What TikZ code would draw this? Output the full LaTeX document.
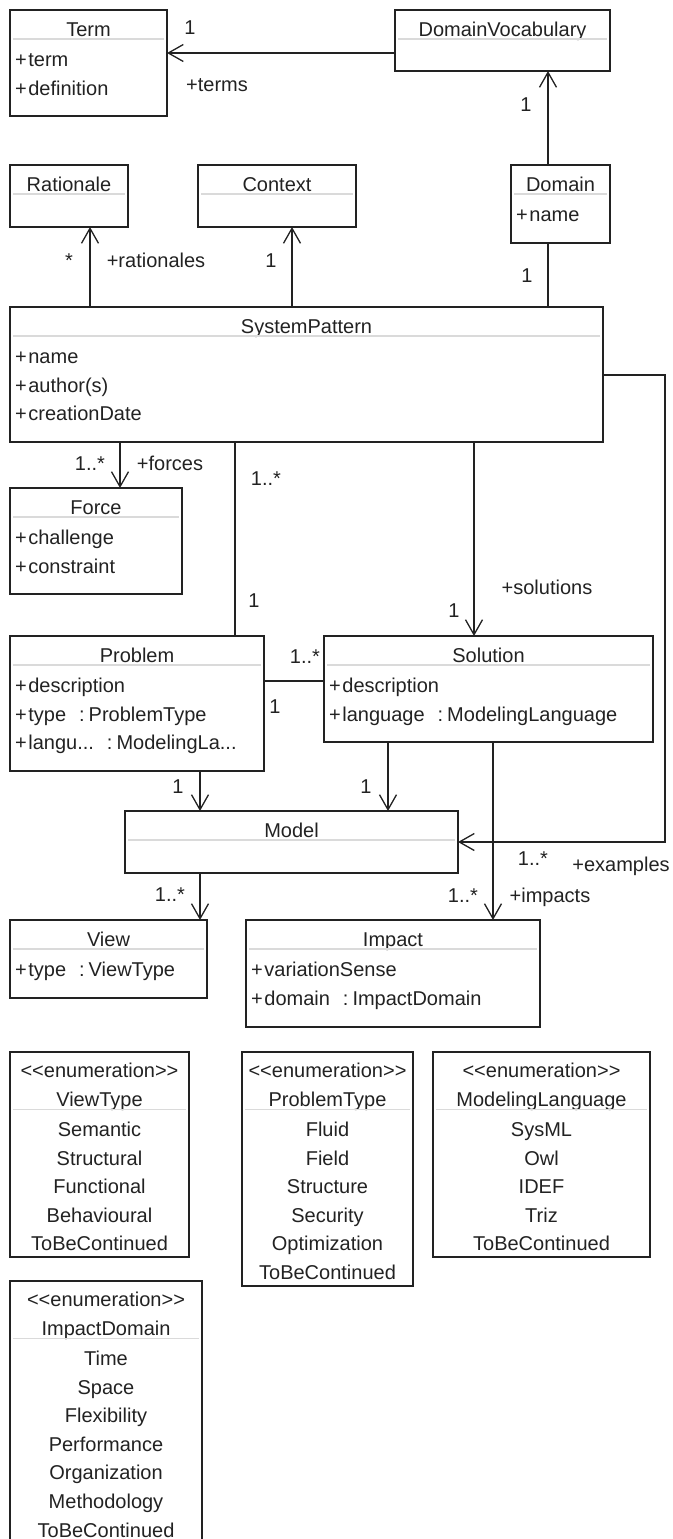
\documentclass[tikz,border=0pt]{standalone}
\usepackage{fontspec}
\setmainfont{Liberation Sans}
\usetikzlibrary{arrows.meta,calc}
\definecolor{ink}{HTML}{222222}
\definecolor{sepc}{HTML}{DADADA}
\tikzset{
 box/.style={draw=ink, line width=1.5pt, anchor=north west, inner sep=0pt, outer sep=0pt},
 lbl/.style={anchor=base, inner sep=0pt, text=ink, font=\fontsize{20}{24}\selectfont},
 attrl/.style={lbl, anchor=base west},
 sepline/.style={draw=sepc, line width=1.2pt},
 conn/.style={draw=ink, line width=1.3pt},
 assoc/.style={conn, -{Straight Barb[length=15pt,width=17pt,line width=1.3pt]}},
}
\newcommand\umlbox[6]{%
  \node[box, minimum width={#4-#2}, minimum height={#5-#3}] (#1) at (#2,#3) {};
  \node[lbl] (#1-title) at ($(#1.north)+(0,26)$) {#6};
  \draw[sepline] ($(#1.north west)+(3,29)$) -- ($(#1.north east)+(-3,29)$);
}
\newcommand\attr[4]{\node[attrl] (#1) at ($(#2.north west)+(5,#3)$) {+\kern1.5pt#4};}
\newcommand\typed[2]{#1\hspace{13pt}:\hspace{4pt}#2}
\newcommand\enumbox[6]{%
  \node[box, minimum width={#4-#2}, minimum height={#5-#3}] (#1) at (#2,#3) {};
  \node[lbl] (#1-st) at ($(#1.north)+(0,25.5)$) {<\kern0pt<enumeration>\kern0pt>};
  \node[lbl] (#1-title) at ($(#1.north)+(0,54.5)$) {#6};
  \draw[sepline] ($(#1.north west)+(3,57.5)$) -- ($(#1.north east)+(-3,57.5)$);
}
\newcommand\lit[4]{\node[lbl] (#1) at ($(#2.north)+(0,#3)$) {#4};}
\begin{document}
\begin{tikzpicture}[x=1pt,y=-1pt]
\useasboundingbox (0,0) rectangle (672,1539);
\clip (0,0) rectangle (672,1539);
% ---------- classes
\umlbox{term}{10}{10}{167}{116}{Term}
\attr{term-a1}{term}{56.5}{term}
\attr{term-a2}{term}{85}{definition}
\umlbox{dv}{395}{10}{610}{71}{DomainVocabulary}
\umlbox{rat}{10}{165}{128}{227}{Rationale}
\umlbox{ctx}{198}{165}{356}{227}{Context}
\umlbox{domain}{511}{165}{610}{243}{Domain}
\attr{domain-a1}{domain}{56.5}{name}
\umlbox{sp}{10}{307}{603}{442}{SystemPattern}
\attr{sp-a1}{sp}{56.5}{name}
\attr{sp-a2}{sp}{85}{author(s)}
\attr{sp-a3}{sp}{113.5}{creationDate}
\umlbox{force}{10}{488}{182}{594}{Force}
\attr{force-a1}{force}{56.5}{challenge}
\attr{force-a2}{force}{85}{constraint}
\umlbox{problem}{10}{636}{264}{771}{Problem}
\attr{problem-a1}{problem}{56.5}{description}
\attr{problem-a2}{problem}{85}{\typed{type}{ProblemType}}
\attr{problem-a3}{problem}{113.5}{\typed{langu...}{ModelingLa...}}
\umlbox{solution}{324}{636}{653}{742}{Solution}
\attr{solution-a1}{solution}{56.5}{description}
\attr{solution-a2}{solution}{85}{\typed{language}{ModelingLanguage}}
\umlbox{model}{125}{811}{458}{873}{Model}
\umlbox{view}{10}{920}{207}{998}{View}
\attr{view-a1}{view}{56.5}{\typed{type}{ViewType}}
\umlbox{impact}{246}{920}{540}{1027}{Impact}
\attr{impact-a1}{impact}{56.5}{variationSense}
\attr{impact-a2}{impact}{85}{\typed{domain}{ImpactDomain}}
% ---------- enumerations
\enumbox{vt}{10}{1052}{189}{1257}{ViewType}
\lit{vt-1}{vt}{84.5}{Semantic}
\lit{vt-2}{vt}{113.1}{Structural}
\lit{vt-3}{vt}{141.7}{Functional}
\lit{vt-4}{vt}{170.3}{Behavioural}
\lit{vt-5}{vt}{198.9}{ToBeContinued}
\enumbox{pt}{242}{1052}{413}{1286}{ProblemType}
\lit{pt-1}{pt}{84.5}{Fluid}
\lit{pt-2}{pt}{113.1}{Field}
\lit{pt-3}{pt}{141.7}{Structure}
\lit{pt-4}{pt}{170.3}{Security}
\lit{pt-5}{pt}{198.9}{Optimization}
\lit{pt-6}{pt}{227.5}{ToBeContinued}
\enumbox{ml}{433}{1052}{650}{1257}{ModelingLanguage}
\lit{ml-1}{ml}{84.5}{SysML}
\lit{ml-2}{ml}{113.1}{Owl}
\lit{ml-3}{ml}{141.7}{IDEF}
\lit{ml-4}{ml}{170.3}{Triz}
\lit{ml-5}{ml}{198.9}{ToBeContinued}
\enumbox{id}{10}{1281}{202}{1560}{ImpactDomain}
\lit{id-1}{id}{84.5}{Time}
\lit{id-2}{id}{113.1}{Space}
\lit{id-3}{id}{141.7}{Flexibility}
\lit{id-4}{id}{170.3}{Performance}
\lit{id-5}{id}{198.9}{Organization}
\lit{id-6}{id}{227.5}{Methodology}
\lit{id-7}{id}{256.1}{ToBeContinued}
% ---------- connectors
\draw[assoc] ($(dv.north west)+(0,43)$) -- ($(term.north east)+(0,43)$);
\coordinate (dx) at ($(domain.north west)+(37,0)$);
\draw[assoc] (dx) -- (dx |- dv.south);
\draw[conn] (dx |- domain.south) -- (dx |- sp.north);
\coordinate (rx) at ($(sp.north west)+(80,0)$);
\draw[assoc] (rx) -- (rx |- rat.south);
\coordinate (cx) at ($(sp.north west)+(282,0)$);
\draw[assoc] (cx) -- (cx |- ctx.south);
\coordinate (fx) at ($(sp.south west)+(110,0)$);
\draw[assoc] (fx) -- (fx |- force.north);
\coordinate (px) at ($(sp.south west)+(225,0)$);
\draw[conn] (px) -- (px |- problem.north);
\coordinate (sx) at ($(sp.south west)+(464,0)$);
\draw[assoc] (sx) -- (sx |- solution.north);
\coordinate (ex) at ($(sp.north east)+(0,68)$);
\coordinate (er) at ($(sp.north east)+(62,68)$);
\draw[assoc] (ex) -- (er) |- (model.east);
\draw[conn] ($(problem.north east)+(0,45)$) -- ($(solution.north west)+(0,45)$);
\coordinate (pm) at ($(problem.south west)+(190,0)$);
\draw[assoc] (pm) -- (pm |- model.north);
\coordinate (sm) at ($(solution.south west)+(64,0)$);
\draw[assoc] (sm) -- (sm |- model.north);
\coordinate (si) at ($(solution.south west)+(169,0)$);
\draw[assoc] (si) -- (si |- impact.north);
\coordinate (mv) at ($(model.south west)+(75,0)$);
\draw[assoc] (mv) -- (mv |- view.north);
% ---------- end labels
\node[lbl] (m-term) at (190,34.5) {1};
\node[lbl] (r-term) at (217,91) {+terms};
\node[lbl] (m-dv) at (526,111.5) {1};
\node[lbl] (m-rat) at (69,267.5) {*};
\node[lbl] (r-rat) at (156,267.5) {+rationales};
\node[lbl] (m-ctx) at (271,267.5) {1};
\node[lbl] (m-dom) at (527,282.5) {1};
\node[lbl] (m-force) at (90,470.5) {1..*};
\node[lbl] (r-force) at (170,470.5) {+forces};
\node[lbl] (m-sppb) at (266,485.5) {1..*};
\node[lbl] (r-sol) at (547,594.5) {+solutions};
\node[lbl] (m-pbsp) at (254,607.5) {1};
\node[lbl] (m-sol) at (454,617.5) {1};
\node[lbl] (m-pss) at (305,663.5) {1..*};
\node[lbl] (m-psp) at (275,713.5) {1};
\node[lbl] (m-pm) at (178,793.5) {1};
\node[lbl] (m-sm) at (366,793.5) {1};
\node[lbl] (m-ex) at (533,865) {1..*};
\node[lbl] (r-ex) at (621,871) {+examples};
\node[lbl] (m-imp) at (463,902) {1..*};
\node[lbl] (r-imp) at (550,902) {+impacts};
\node[lbl] (m-view) at (170,901) {1..*};
\end{tikzpicture}
\end{document}
